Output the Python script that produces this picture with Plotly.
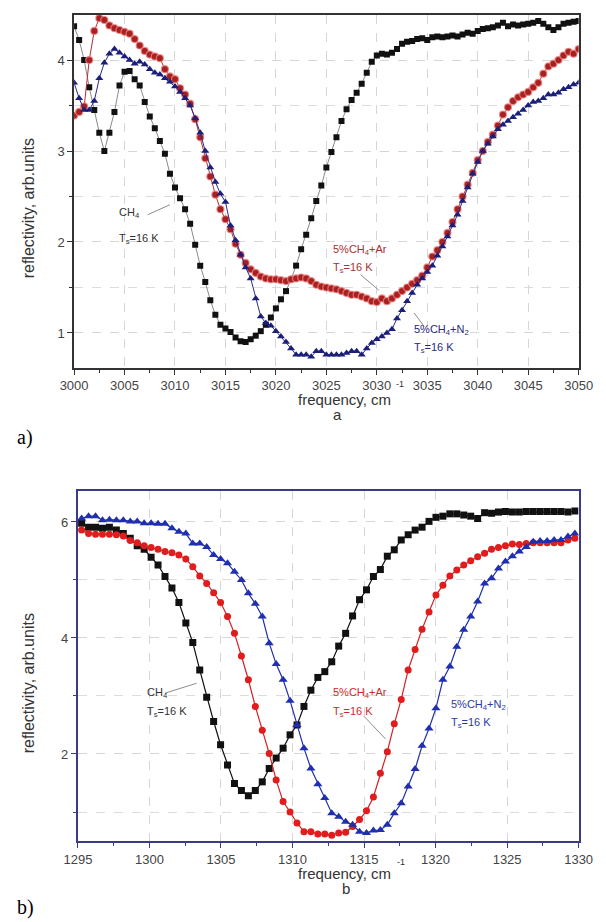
import numpy as np
import plotly.graph_objects as go

# ---------------- data: panel a (C-H stretch region) ----------------
freq_a = [3000 + 0.5 * i for i in range(101)]
ch4_a = [4.37, 4.22, 4.00, 3.70, 3.45, 3.20, 3.00, 3.20, 3.43, 3.72,
         3.87, 3.88, 3.79, 3.72, 3.54, 3.38, 3.25, 3.11, 2.97, 2.75,
         2.60, 2.48, 2.36, 2.20, 1.97, 1.74, 1.56, 1.36, 1.20, 1.09,
         1.05, 1.01, 0.95, 0.91, 0.90, 0.93, 0.97, 1.02, 1.09, 1.17,
         1.27, 1.37, 1.46, 1.59, 1.74, 1.92, 2.08, 2.26, 2.45, 2.62,
         2.82, 2.99, 3.15, 3.33, 3.46, 3.56, 3.64, 3.74, 3.86, 3.98,
         4.05, 4.07, 4.06, 4.08, 4.12, 4.18, 4.20, 4.21, 4.23, 4.24,
         4.22, 4.25, 4.26, 4.25, 4.26, 4.27, 4.26, 4.28, 4.30, 4.29,
         4.32, 4.34, 4.35, 4.36, 4.38, 4.41, 4.37, 4.39, 4.38, 4.39,
         4.40, 4.41, 4.43, 4.40, 4.36, 4.33, 4.36, 4.40, 4.41, 4.42, 4.43]
ar_a = [3.39, 3.43, 3.49, 4.00, 4.32, 4.46, 4.44, 4.38, 4.35, 4.33,
        4.31, 4.29, 4.23, 4.16, 4.10, 4.06, 4.04, 4.02, 3.90, 3.82,
        3.79, 3.69, 3.62, 3.52, 3.35, 3.15, 2.92, 2.72, 2.52, 2.36,
        2.25, 2.14, 1.98, 1.86, 1.77, 1.70, 1.66, 1.62, 1.60, 1.59,
        1.59, 1.58, 1.57, 1.59, 1.60, 1.61, 1.60, 1.57, 1.53, 1.51,
        1.50, 1.49, 1.48, 1.46, 1.44, 1.42, 1.42, 1.40, 1.38, 1.35,
        1.34, 1.38, 1.35, 1.38, 1.42, 1.46, 1.50, 1.54, 1.58, 1.63,
        1.72, 1.84, 1.91, 2.00, 2.10, 2.22, 2.36, 2.50, 2.63, 2.76,
        2.90, 3.00, 3.10, 3.18, 3.28, 3.40, 3.48, 3.55, 3.59, 3.62,
        3.65, 3.70, 3.75, 3.85, 3.93, 3.96, 4.00, 4.05, 4.09, 4.07, 4.12]
n2_a = [3.75, 3.58, 3.45, 3.45, 3.55, 3.80, 3.97, 4.07, 4.12, 4.08,
        4.04, 4.00, 3.96, 3.98, 3.95, 3.90, 3.86, 3.84, 3.80, 3.76,
        3.71, 3.65, 3.58, 3.50, 3.36, 3.20, 3.00, 2.82, 2.66, 2.53,
        2.44, 2.18, 2.02, 1.86, 1.72, 1.60, 1.38, 1.18, 1.11, 1.08,
        1.02, 0.96, 0.90, 0.83, 0.76, 0.76, 0.76, 0.74, 0.80, 0.80,
        0.76, 0.76, 0.76, 0.76, 0.78, 0.80, 0.80, 0.76, 0.83, 0.89,
        0.93, 0.96, 1.00, 1.04, 1.16, 1.25, 1.35, 1.44, 1.53, 1.60,
        1.67, 1.74, 1.85, 1.95, 2.06, 2.18, 2.30, 2.45, 2.60, 2.75,
        2.88, 3.00, 3.08, 3.16, 3.24, 3.29, 3.33, 3.37, 3.41, 3.45,
        3.50, 3.54, 3.55, 3.58, 3.62, 3.62, 3.64, 3.68, 3.70, 3.73, 3.75]

# ---------------- data: panel b (bending region) ----------------
freq_b = list(np.linspace(1295.26, 1329.74, 72))
ch4_b = [5.98, 5.91, 5.91, 5.89, 5.91, 5.86, 5.80, 5.72, 5.59, 5.53,
         5.39, 5.26, 5.06, 4.86, 4.61, 4.26, 3.92, 3.45, 2.98, 2.56,
         2.16, 1.81, 1.49, 1.37, 1.28, 1.37, 1.52, 1.75, 1.93, 2.10,
         2.33, 2.50, 2.82, 3.10, 3.32, 3.42, 3.59, 3.86, 4.08, 4.38,
         4.66, 4.83, 5.06, 5.18, 5.41, 5.52, 5.69, 5.78, 5.86, 5.91,
         6.01, 6.08, 6.10, 6.14, 6.14, 6.12, 6.10, 6.06, 6.16, 6.15,
         6.17, 6.18, 6.17, 6.17, 6.18, 6.18, 6.18, 6.18, 6.18, 6.18,
         6.17, 6.19]
ar_b = [5.86, 5.80, 5.79, 5.79, 5.79, 5.78, 5.76, 5.68, 5.64, 5.59,
        5.56, 5.53, 5.49, 5.47, 5.43, 5.36, 5.23, 5.07, 4.94, 4.78,
        4.61, 4.37, 4.08, 3.69, 3.28, 2.82, 2.41, 2.01, 1.55, 1.18,
        1.00, 0.81, 0.66, 0.66, 0.62, 0.62, 0.60, 0.64, 0.65, 0.75,
        0.87, 1.02, 1.26, 1.67, 2.04, 2.52, 2.94, 3.45, 3.80, 4.15,
        4.45, 4.74, 4.91, 5.07, 5.17, 5.26, 5.33, 5.40, 5.46, 5.53,
        5.56, 5.59, 5.62, 5.61, 5.63, 5.64, 5.64, 5.64, 5.64, 5.64,
        5.69, 5.72]
n2_b = [6.06, 6.10, 6.10, 6.03, 6.04, 6.03, 6.03, 6.01, 6.01, 5.98,
        5.98, 5.97, 5.97, 5.89, 5.83, 5.80, 5.63, 5.63, 5.57, 5.43,
        5.36, 5.29, 5.14, 5.00, 4.77, 4.59, 4.37, 3.91, 3.55, 3.28,
        2.92, 2.50, 2.10, 1.75, 1.48, 1.24, 0.98, 0.92, 0.83, 0.78,
        0.66, 0.64, 0.68, 0.69, 0.78, 0.98, 1.15, 1.44, 1.74, 2.14,
        2.44, 2.79, 3.28, 3.51, 3.85, 4.14, 4.37, 4.63, 4.94, 5.03,
        5.20, 5.32, 5.41, 5.49, 5.57, 5.66, 5.67, 5.67, 5.69, 5.69,
        5.75, 5.80]

labels_a = ["CH<sub>4</sub>", "5%CH<sub>4</sub>+Ar", "5%CH<sub>4</sub>+N<sub>2</sub>"]
temp_label = "T<sub>s</sub>=16 K"

FONT = "Liberation Sans, Arial, sans-serif"
W, H = 606, 922

fig = go.Figure()

# panel a
fig.add_trace(go.Scatter(x=freq_a, y=ch4_a, mode="lines+markers", xaxis="x", yaxis="y",
                         line=dict(color="#8a8a8a", width=1),
                         marker=dict(symbol="square", size=6, color="#111111")))
fig.add_trace(go.Scatter(x=freq_a, y=ar_a, mode="lines+markers", xaxis="x", yaxis="y",
                         line=dict(color="#b03030", width=1),
                         marker=dict(symbol="circle", size=7, color="#a82020",
                                     line=dict(color="rgba(235,130,130,0.8)", width=1.2))))
fig.add_trace(go.Scatter(x=freq_a, y=n2_a, mode="lines+markers", xaxis="x", yaxis="y",
                         line=dict(color="#2a2a8a", width=1),
                         marker=dict(symbol="triangle-up", size=7, color="#1b1f7a")))

# panel b
fig.add_trace(go.Scatter(x=freq_b, y=ch4_b, mode="lines+markers", xaxis="x2", yaxis="y2",
                         line=dict(color="#111111", width=1.2),
                         marker=dict(symbol="square", size=7, color="#111111")))
fig.add_trace(go.Scatter(x=freq_b, y=ar_b, mode="lines+markers", xaxis="x2", yaxis="y2",
                         line=dict(color="#d42020", width=1.2),
                         marker=dict(symbol="circle", size=7, color="#e01c1c")))
fig.add_trace(go.Scatter(x=freq_b, y=n2_b, mode="lines+markers", xaxis="x2", yaxis="y2",
                         line=dict(color="#2030a8", width=1.2),
                         marker=dict(symbol="triangle-up", size=8, color="#1f2fb0")))


def axis_common(linecolor, lw):
    return dict(showline=True, linecolor=linecolor, linewidth=lw, mirror=True,
                ticks="outside", ticklen=5, tickcolor=linecolor, tickwidth=1.2,
                showgrid=True, gridcolor="#d6d6d6", griddash="dash", gridwidth=1,
                zeroline=False, ticklabeloverflow="allow",
                tickfont=dict(family=FONT, size=13, color="#444444"))


xa = axis_common("#333333", 1.5)
xa.update(domain=[63 / W, 592 / W], anchor="y", range=[3000, 3050.001], tick0=3000, dtick=5,
          minor=dict(dtick=2.5, tick0=3000, ticks="outside", ticklen=3, tickcolor="#333333",
                     showgrid=False))
ya = axis_common("#333333", 1.5)
ya.update(domain=[1 - 368 / H, 1 - 15 / H], anchor="x", range=[0.615, 4.495], tick0=0, dtick=1,
          minor=dict(dtick=0.5, tick0=0, ticks="outside", ticklen=3, tickcolor="#333333",
                     showgrid=True, gridcolor="#dcdcdc", griddash="dash"))
xb = axis_common("#3a3a85", 2)
xb.update(domain=[67 / W, 592 / W], anchor="y2", range=[1295, 1330.001], tick0=1295, dtick=5,
          minor=dict(dtick=2.5, tick0=1295, ticks="outside", ticklen=3, tickcolor="#3a3a85",
                     showgrid=False))
yb = axis_common("#3a3a85", 2)
yb.update(domain=[1 - 841 / H, 1 - 491 / H], anchor="x2", range=[0.5, 6.534], tick0=0, dtick=2,
          minor=dict(dtick=1, tick0=0, ticks="outside", ticklen=3, tickcolor="#3a3a85",
                     showgrid=True, gridcolor="#dcdcdc", griddash="dash"))

ann = []


def paper(px, py, text, size=16, color="#333333", angle=0, xanchor="center", family=FONT):
    ann.append(dict(x=px / W, y=1 - py / H, xref="paper", yref="paper", text=text,
                    showarrow=False, textangle=angle, xanchor=xanchor, yanchor="middle",
                    font=dict(family=family, size=size, color=color)))


def data(x, y, text, color, xr, yr, size=11):
    ann.append(dict(x=x, y=y, xref=xr, yref=yr, text=text, showarrow=False,
                    xanchor="left", yanchor="middle",
                    font=dict(family=FONT, size=size, color=color)))


# axis titles
paper(15, 208, "reflectivity, arb.units", angle=-90)
paper(15, 683, "reflectivity, arb.units", angle=-90)
paper(346, 399, "frequency, cm", size=15)
paper(405, 384, "-1", size=9)
paper(339, 414, "a", size=15)
paper(347, 873, "frequency, cm", size=15)
paper(406, 862, "-1", size=9)
paper(348, 888, "b", size=15)
# panel letters
paper(1, 437, "a)", size=20, color="#000000", xanchor="left", family="Liberation Serif, Times New Roman, serif")
paper(1, 907, "b)", size=20, color="#000000", xanchor="left", family="Liberation Serif, Times New Roman, serif")

# curve labels, panel a
data(3004.25, 2.32, labels_a[0], "#333333", "x", "y")
data(3004.25, 2.03, temp_label, "#333333", "x", "y")
data(3025.5, 1.91, labels_a[1], "#a83030", "x", "y")
data(3025.5, 1.71, temp_label, "#a83030", "x", "y")
data(3033.5, 1.03, labels_a[2], "#2a2a7a", "x", "y")
data(3033.5, 0.84, temp_label, "#2a2a7a", "x", "y")
# curve labels, panel b
data(1299.67, 3.05, labels_a[0], "#333333", "x2", "y2")
data(1299.67, 2.72, temp_label, "#333333", "x2", "y2")
data(1312.67, 3.05, labels_a[1], "#cc2a2a", "x2", "y2")
data(1312.67, 2.72, temp_label, "#cc2a2a", "x2", "y2")
data(1320.93, 2.84, labels_a[2], "#2a3aa8", "x2", "y2")
data(1320.93, 2.53, temp_label, "#2a3aa8", "x2", "y2")

# leader lines
leaders = [
    ("x", "y", 3007.3, 2.30, 3009.5, 2.41),
    ("x", "y", 3028.4, 1.64, 3030.2, 1.47),
    ("x", "y", 3033.7, 1.22, 3034.7, 1.07),
    ("x2", "y2", 1301.1, 3.05, 1303.3, 3.22),
    ("x2", "y2", 1315.0, 2.65, 1316.5, 2.26),
]
shapes = [dict(type="line", xref=a, yref=b, x0=x0, y0=y0, x1=x1, y1=y1,
               line=dict(color="#8c8c8c", width=1)) for a, b, x0, y0, x1, y1 in leaders]

fig.update_layout(width=W, height=H, margin=dict(l=0, r=0, t=0, b=0),
                  paper_bgcolor="white", plot_bgcolor="white", showlegend=False,
                  xaxis=xa, yaxis=ya, xaxis2=xb, yaxis2=yb,
                  annotations=ann, shapes=shapes,
                  font=dict(family=FONT))

fig.write_html("out.html", config={"displayModeBar": False},
               post_script="document.body.style.margin='0';document.body.style.overflow='hidden';")
